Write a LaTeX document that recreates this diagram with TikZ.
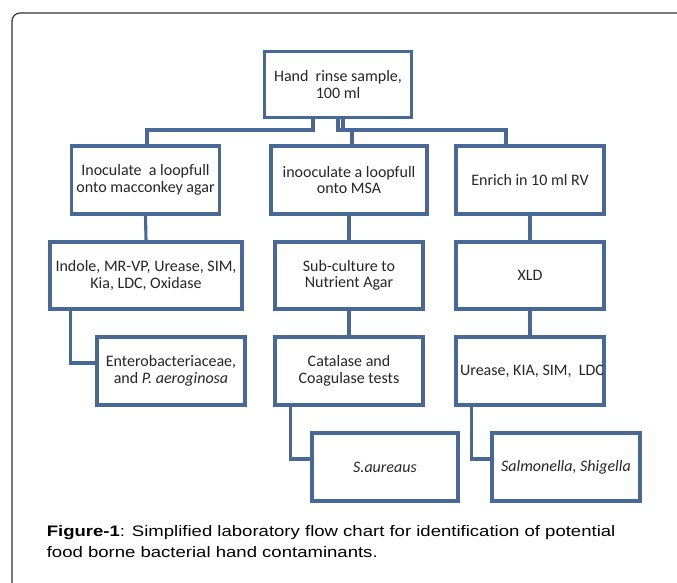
\documentclass[tikz,border=0pt]{standalone}
\usepackage{fontspec}
\newfontfamily\calfont{Carlito}
\newfontfamily\capfont[FakeStretch=1.22]{Liberation Sans}
\usetikzlibrary{calc}
\definecolor{boxblue}{RGB}{72,105,150}
\definecolor{framegray}{RGB}{50,50,50}
\definecolor{txt}{RGB}{38,38,38}
\begin{document}
\begin{tikzpicture}[x=1pt,y=-1pt,
  stepbox/.style={draw=boxblue, line width=3.1pt, fill=white, inner sep=0pt,
    minimum width=148pt, minimum height=68pt, align=center, text=txt,
    font=\calfont\fontsize{16}{16.5}\selectfont},
  conn/.style={draw=boxblue, line width=3.1pt},
  captxt/.style={anchor=base west, inner sep=0pt, text=black,
    font=\capfont\fontsize{15.2}{18}\selectfont}]
\useasboundingbox (0,0) rectangle (677,583);
\fill[white] (0,0) rectangle (677,583);
\draw[framegray, line width=1.2pt, rounded corners=8pt] (12,13) rectangle (720,620);

% boxes
\node[stepbox, minimum width=147pt, minimum height=66pt] (top) at (338,84.5) {Hand\ \ rinse sample,\\100 ml};
\node[stepbox] (r1L) at (145.5,180) {Inoculate\ \ a loopfull\\onto macconkey agar};
\node[stepbox, minimum width=156pt] (r1M) at (349,180) {inooculate a loopfull\\onto MSA};
\node[stepbox] (r1R) at (530,180) {Enrich in 10 ml RV};
\node[stepbox, minimum width=192pt, minimum height=67pt] (r2L) at (146,275.5) {Indole, MR-VP, Urease, SIM,\\Kia, LDC, Oxidase};
\node[stepbox, minimum height=67pt] (r2M) at (349,275.5) {Sub-culture to\\Nutrient Agar};
\node[stepbox, minimum height=67pt] (r2R) at (530,275.5) {XLD};
\node[stepbox] (r3L) at (171,371) {Enterobacteriaceae,\\and \textit{P. aeroginosa}};
\node[stepbox] (r3M) at (349,371) {Catalase and\\Coagulase tests};
\node[stepbox] (r3R) at (530,371) {\hspace*{4pt}Urease, KIA, SIM,\ \ LDC};
\node[stepbox, minimum width=146pt] (r4M) at (385,467) {\textit{S.aureaus}};
\node[stepbox] (r4R) at (566,467) {\textit{Salmonella, Shigella}};

% junction coordinates
\coordinate (j1) at (147,130);
\coordinate (j2) at (352,130);
\coordinate (j3) at (506,130);
\coordinate (t0) at (313,118);
\coordinate (t1) at (338,118);
\coordinate (t2) at (343,118);
\coordinate (e1) at (70.6,363);
\coordinate (e2) at (290.7,459);
\coordinate (e3) at (471.7,459);

% connectors from top box
\draw[conn] (t0 |- top.south) |- (j1) -- (j1 |- r1L.north);
\draw[conn] (t1 |- top.south) -- (t1 |- j1) -- (j3) -- (j3 |- r1R.north);
\draw[conn] (t2 |- top.south) -- (t2 |- j1);
\draw[conn] (j2) -- (j2 |- r1M.north);

% column connectors
\draw[conn] (r1L.south) -- (r2L.north);
\draw[conn] (r1M.south) -- (r2M.north);
\draw[conn] (r1R.south) -- (r2R.north);
\draw[conn] (r2M.south) -- (r3M.north);
\draw[conn] (r2R.south) -- (r3R.north);
\draw[conn] (e1 |- r2L.south) -- (e1) -- (e1 -| r3L.west);
\draw[conn] (e2 |- r3M.south) -- (e2) -- (e2 -| r4M.west);
\draw[conn] (e3 |- r3R.south) -- (e3) -- (e3 -| r4R.west);

% caption
\node[captxt] (cap1) at (46.6,536) {\textbf{Figure-1}: Simplified laboratory flow chart for identification of potential};
\node[captxt] (cap2) at (46.6,557) {food borne bacterial hand contaminants.};
\end{tikzpicture}
\end{document}
